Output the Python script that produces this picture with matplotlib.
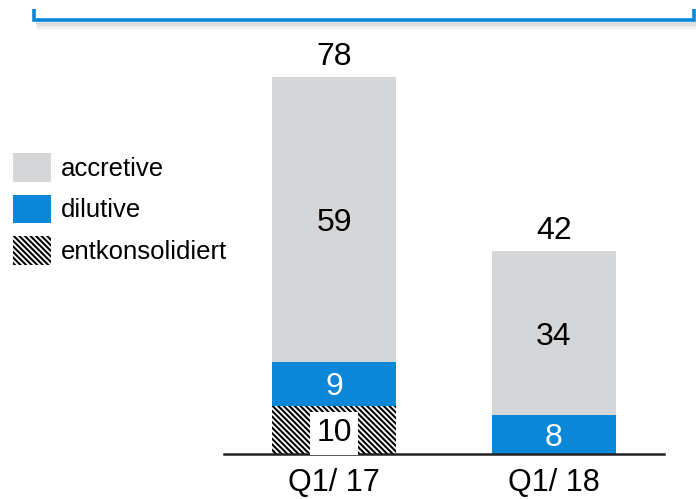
import matplotlib
matplotlib.use("Agg")
import matplotlib.pyplot as plt
from matplotlib.patches import Patch
from matplotlib.lines import Line2D

plt.rcParams['font.family'] = ['Liberation Sans', 'DejaVu Sans']
plt.rcParams['hatch.linewidth'] = 1.5

categories = ["Q1/ 17", "Q1/ 18"]
entkonsolidiert = [10, 0]
dilutive = [9, 8]
accretive = [59, 34]
totals = [78, 42]

BLUE = "#0A87D8"
GRAY = "#D5D6D8"
HATCH = "\\" * 6

W, H = 696, 499
fig = plt.figure(figsize=(W / 100, H / 100), dpi=100)
ax = fig.add_axes([224 / W, 45 / H, 440 / W, 454 / H])

x = list(range(len(categories)))
width = 0.56

ax.bar(x, entkonsolidiert, width, color="white", edgecolor="black",
       linewidth=0, hatch=HATCH)
ax.bar(x, dilutive, width, bottom=entkonsolidiert, color=BLUE, linewidth=0)
bottom2 = [a + b for a, b in zip(entkonsolidiert, dilutive)]
ax.bar(x, accretive, width, bottom=bottom2, color=GRAY, linewidth=0)

FS = 23
for i in x:
    if entkonsolidiert[i]:
        ax.text(i, entkonsolidiert[i] / 2, str(entkonsolidiert[i]), ha="center",
                va="center_baseline", fontsize=FS, color="black",
                bbox=dict(boxstyle="square,pad=0.2", fc="white", ec="none"))
    ax.text(i, entkonsolidiert[i] + dilutive[i] / 2, str(dilutive[i]), ha="center",
            va="center_baseline", fontsize=FS, color="white")
    ax.text(i, bottom2[i] + accretive[i] / 2, str(accretive[i]), ha="center",
            va="center_baseline", fontsize=FS, color="black")
    ax.annotate(str(totals[i]), (i, totals[i]), xytext=(0, 8.5),
                textcoords="offset points", ha="center", va="baseline",
                fontsize=FS, color="black")

ax.set_xlim(-0.5, 1.5)
ax.set_ylim(0, 454 / 4.83)
ax.set_xticks(x)
ax.set_xticklabels(categories, fontsize=22)
ax.tick_params(axis="x", length=0, pad=10)
ax.set_yticks([])
for s in ["top", "right", "left"]:
    ax.spines[s].set_visible(False)
ax.spines["bottom"].set_linewidth(1.8)
ax.spines["bottom"].set_color("#222222")
ax.patch.set_alpha(0)

handles = [Patch(facecolor=GRAY, edgecolor="none", label="accretive"),
           Patch(facecolor=BLUE, edgecolor="none", label="dilutive"),
           Patch(facecolor="white", edgecolor="black", linewidth=0,
                 hatch=HATCH, label="entkonsolidiert")]
fig.legend(handles=handles, loc="upper left",
           bbox_to_anchor=(13 / W, 1 - 153 / H), frameon=False, fontsize=18.5,
           handlelength=1.48, handleheight=1.34, labelspacing=0.5,
           handletextpad=0.4, borderpad=0, borderaxespad=0)

# top bracket with soft shadow
def fx(px):
    return px / W

def fy(py):
    return 1 - py / H

for k, a in enumerate([0.22, 0.16, 0.11, 0.07, 0.045, 0.025]):
    off = 2 + k * 1.5
    fig.add_artist(Line2D([fx(36), fx(696)], [fy(20 + off), fy(20 + off)],
                          color="gray", alpha=a, linewidth=2,
                          solid_capstyle="butt"))
fig.add_artist(Line2D([fx(33.5), fx(33.5), fx(694), fx(694)],
                      [fy(9), fy(19.5), fy(19.5), fy(9)],
                      color=BLUE, linewidth=2.6, solid_joinstyle="miter",
                      solid_capstyle="butt"))

fig.savefig("out.png", dpi=100)
